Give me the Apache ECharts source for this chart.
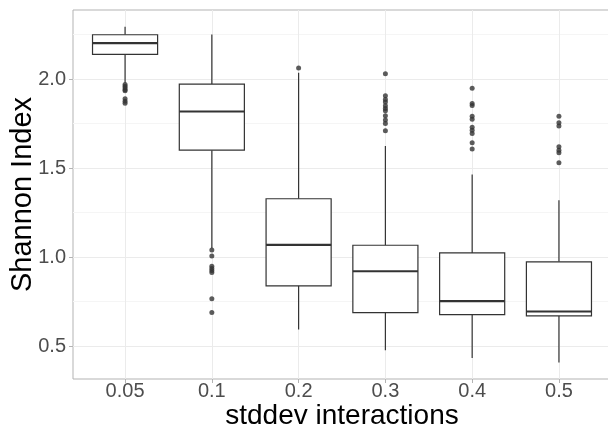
<!DOCTYPE html>
<html>
<head>
<meta charset="utf-8">
<script src="https://cdn.jsdelivr.net/npm/echarts@6/dist/echarts.min.js"></script>
<style>
  html, body { margin: 0; padding: 0; background: #fff; }
  #chart { width: 608px; height: 432px; }
</style>
</head>
<body>
<div id="chart"></div>
<script>
// stddev interaction levels
const categories = ['0.05', '0.1', '0.2', '0.3', '0.4', '0.5'];

// box statistics
const lowWhisker  = [1.980, 1.050, 0.594, 0.478, 0.434, 0.408];
const q1          = [2.139, 1.601, 0.839, 0.689, 0.678, 0.670];
const median      = [2.202, 1.818, 1.069, 0.921, 0.753, 0.695];
const q3          = [2.249, 1.972, 1.328, 1.067, 1.024, 0.974];
const highWhisker = [2.294, 2.251, 2.035, 1.624, 1.465, 1.320];

// outlier points per category
const outliers = [
    [1.970, 1.960, 1.950, 1.940, 1.935, 1.890, 1.875, 1.865],
    [1.040, 1.007, 0.949, 0.936, 0.925, 0.914, 0.766, 0.689],
    [2.062],
    [2.030, 1.906, 1.885, 1.871, 1.850, 1.835, 1.822, 1.794, 1.770, 1.751, 1.710],
    [1.949, 1.863, 1.852, 1.792, 1.774, 1.729, 1.713, 1.695, 1.642, 1.608],
    [1.792, 1.755, 1.736, 1.620, 1.601, 1.586, 1.530]
];

const yTicks = [0.5, 1.0, 1.5, 2.0];
const yMinorTicks = [0.75, 1.25, 1.75, 2.25];
const yMin = 0.316, yMax = 2.388;

const catIdx = categories.map((c, i) => i);
const boxData = categories.map((c, i) => [i, lowWhisker[i], q1[i], median[i], q3[i], highWhisker[i]]);
const outlierData = [];
outliers.forEach((list, i) => list.forEach(v => outlierData.push([i, v])));

const font = 'Liberation Sans, Arial, sans-serif';
const ink = '#333333';

const chart = echarts.init(document.getElementById('chart'), null, {renderer: 'canvas'});
chart.setOption({
    animation: false,
    backgroundColor: '#fff',
    grid: {
        left: 73, right: -3, top: 10, bottom: 53,
        outerBoundsMode: 'none',
        containLabel: false,
        show: true, borderColor: '#b3b3b3', borderWidth: 1, backgroundColor: '#fff'
    },
    xAxis: {
        type: 'value',
        min: -0.6, max: 5.6,
        name: 'stddev interactions',
        nameLocation: 'middle',
        nameGap: 23,
        nameMoveOverlap: false,
        nameTextStyle: {fontFamily: font, fontSize: 28, color: '#000'},
        axisLine: {show: false, onZero: false},
        axisTick: {show: true, length: 4, customValues: catIdx, lineStyle: {color: '#b3b3b3'}},
        axisLabel: {
            customValues: catIdx,
            margin: 2,
            fontFamily: font, fontSize: 20, color: '#4d4d4d',
            formatter: v => categories[Math.round(v)]
        },
        splitLine: {show: true, lineStyle: {color: '#ebebeb', width: 1}}
    },
    yAxis: [
        {
            type: 'value',
            min: yMin, max: yMax,
            name: 'Shannon Index',
            nameLocation: 'middle',
            nameGap: 36,
            nameMoveOverlap: false,
            nameTextStyle: {fontFamily: font, fontSize: 29, color: '#000'},
            axisLine: {show: false, onZero: false},
            axisTick: {show: true, length: 4, customValues: yTicks, lineStyle: {color: '#b3b3b3'}},
            axisLabel: {
                customValues: yTicks,
                margin: 7,
                fontFamily: font, fontSize: 20, color: '#4d4d4d',
                formatter: v => v.toFixed(1)
            },
            splitLine: {show: true, lineStyle: {color: '#ebebeb', width: 1}}
        },
        {
            // minor grid only
            type: 'value',
            position: 'left',
            min: yMin, max: yMax,
            axisLine: {show: false, onZero: false},
            axisTick: {show: false, customValues: yMinorTicks},
            axisLabel: {show: false, customValues: yMinorTicks},
            splitLine: {show: true, lineStyle: {color: '#f5f5f5', width: 1}}
        }
    ],
    series: [
        {
            type: 'custom',
            data: boxData,
            encode: {x: 0, y: [1, 2, 3, 4, 5]},
            z: 3,
            renderItem(params, api) {
                const x = api.value(0);
                const lo = api.coord([x, api.value(1)]);
                const b1 = api.coord([x, api.value(2)]);
                const md = api.coord([x, api.value(3)]);
                const b3 = api.coord([x, api.value(4)]);
                const hi = api.coord([x, api.value(5)]);
                const half = api.size([0.75, 0])[0] / 2;
                const stroke = {stroke: ink, lineWidth: 1.2};
                return {
                    type: 'group',
                    children: [
                        {type: 'line', shape: {x1: lo[0], y1: lo[1], x2: b1[0], y2: b1[1]}, style: stroke},
                        {type: 'line', shape: {x1: b3[0], y1: b3[1], x2: hi[0], y2: hi[1]}, style: stroke},
                        {type: 'rect', shape: {x: b3[0] - half, y: b3[1], width: half * 2, height: b1[1] - b3[1]},
                         style: {fill: '#fff', stroke: ink, lineWidth: 1.2}},
                        {type: 'line', shape: {x1: md[0] - half, y1: md[1], x2: md[0] + half, y2: md[1]},
                         style: {stroke: ink, lineWidth: 2.2}}
                    ]
                };
            }
        },
        {
            type: 'scatter',
            data: outlierData,
            symbol: 'circle',
            symbolSize: 5,
            z: 4,
            itemStyle: {color: ink}
        }
    ]
});
</script>
</body>
</html>
